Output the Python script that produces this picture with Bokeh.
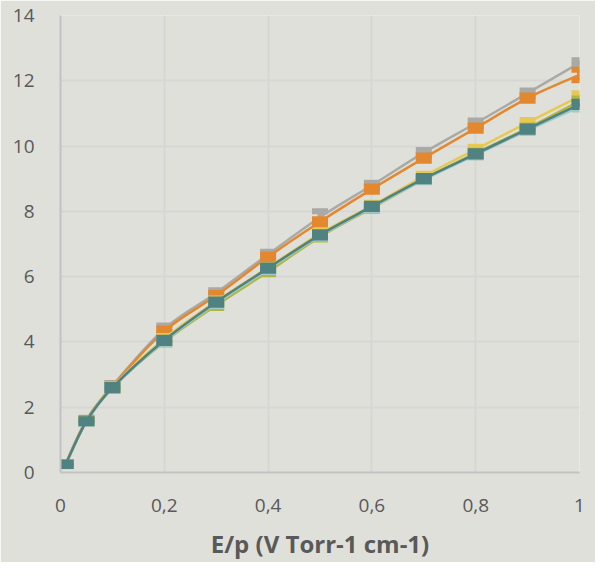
from bokeh.plotting import figure
from bokeh.models import FixedTicker, Range1d
from bokeh.embed import file_html
from bokeh.resources import INLINE

# ---- data ----
x_values = [0.01, 0.05, 0.1, 0.2, 0.3, 0.4, 0.5, 0.6, 0.7, 0.8, 0.9, 1.0]

grey_y = [0.27, 1.62, 2.66, 4.40, 5.50, 6.68, 7.82, 8.80, 9.80, 10.70, 11.62, 12.55]
orange_y = [0.27, 1.60, 2.64, 4.33, 5.42, 6.60, 7.68, 8.68, 9.63, 10.55, 11.47, 12.18]
yellow_y = [0.25, 1.58, 2.62, 4.10, 5.25, 6.28, 7.32, 8.18, 9.07, 9.90, 10.72, 11.52]
olive_y = [0.25, 1.57, 2.60, 4.00, 5.12, 6.15, 7.22, 8.10, 8.98, 9.78, 10.55, 11.38]
lightblue_y = [0.24, 1.55, 2.58, 4.02, 5.18, 6.22, 7.25, 8.12, 8.97, 9.73, 10.48, 11.20]
teal_y = [0.25, 1.57, 2.60, 4.05, 5.22, 6.26, 7.28, 8.15, 9.00, 9.76, 10.52, 11.28]

grey_err = [0.05, 0.06, 0.08, 0.10, 0.08, 0.08, 0.18, 0.08, 0.08, 0.08, 0.08, 0.08]
orange_err = [0.05, 0.06, 0.08, 0.08, 0.08, 0.08, 0.08, 0.08, 0.08, 0.08, 0.08, 0.16]
yellow_err = [0.05, 0.06, 0.08, 0.08, 0.08, 0.08, 0.08, 0.08, 0.08, 0.08, 0.08, 0.10]
olive_err = [0.05, 0.06, 0.08, 0.08, 0.08, 0.08, 0.08, 0.08, 0.08, 0.08, 0.08, 0.08]
lightblue_err = [0.05, 0.06, 0.08, 0.08, 0.08, 0.08, 0.08, 0.08, 0.08, 0.08, 0.08, 0.08]
teal_err = [0.05, 0.06, 0.08, 0.08, 0.08, 0.08, 0.08, 0.08, 0.08, 0.08, 0.08, 0.08]

x_ticks = [0, 0.2, 0.4, 0.6, 0.8, 1.0]
x_tick_labels = ["0", "0,2", "0,4", "0,6", "0,8", "1"]
y_ticks = [0, 2, 4, 6, 8, 10, 12, 14]

series = [
    ("grey", grey_y, grey_err, "#a9a9a6"),
    ("orange", orange_y, orange_err, "#e3882f"),
    ("yellow", yellow_y, yellow_err, "#e6c955"),
    ("olive", olive_y, olive_err, "#b3b53c"),
    ("lightblue", lightblue_y, lightblue_err, "#9fcaca"),
    ("teal", teal_y, teal_err, "#4f8281"),
]

BG = "#e0e0db"
TEXT = "#595959"
FONT = "Open Sans"

p = figure(width=595, height=562, output_backend="svg", toolbar_location=None,
           x_range=Range1d(0, 1), y_range=Range1d(0, 14),
           min_border_left=60, min_border_right=16, min_border_top=15, min_border_bottom=87)
p.background_fill_color = BG
p.border_fill_color = BG
p.outline_line_color = None

p.xgrid.ticker = FixedTicker(ticks=x_ticks)
p.ygrid.ticker = FixedTicker(ticks=y_ticks)
for g in (p.xgrid, p.ygrid):
    g.grid_line_color = "#d6d6d4"
    g.grid_line_width = 2

p.xaxis.ticker = FixedTicker(ticks=x_ticks)
p.xaxis.major_label_overrides = {t: l for t, l in zip(x_ticks, x_tick_labels)}
p.yaxis.ticker = FixedTicker(ticks=y_ticks)

for ax in (p.xaxis, p.yaxis):
    ax.axis_line_color = "#c2c2c2"
    ax.axis_line_width = 2
    ax.major_tick_line_color = None
    ax.minor_tick_line_color = None
    ax.major_label_text_font = FONT
    ax.major_label_text_font_size = "19px"
    ax.major_label_text_color = TEXT
p.xaxis.major_label_standoff = 20
p.yaxis.major_label_standoff = 20

p.xaxis.axis_label = "E/p (V Torr-1 cm-1)"
p.xaxis.axis_label_text_font = FONT
p.xaxis.axis_label_text_font_size = "24px"
p.xaxis.axis_label_text_font_style = "bold"
p.xaxis.axis_label_text_color = TEXT
p.xaxis.axis_label_standoff = 12


def smooth_segments(xs, ys):
    """Control points for a smoothed (Catmull-Rom style) line through the data."""
    n = len(xs)
    x0, y0, x1, y1, cx0, cy0, cx1, cy1 = [], [], [], [], [], [], [], []
    for i in range(n - 1):
        pa = (xs[max(i - 1, 0)], ys[max(i - 1, 0)])
        pb = (xs[i], ys[i])
        pc = (xs[i + 1], ys[i + 1])
        pd = (xs[min(i + 2, n - 1)], ys[min(i + 2, n - 1)])
        x0.append(pb[0]); y0.append(pb[1])
        x1.append(pc[0]); y1.append(pc[1])
        cx0.append(pb[0] + (pc[0] - pa[0]) / 6.0)
        cy0.append(pb[1] + (pc[1] - pa[1]) / 6.0)
        cx1.append(pc[0] - (pd[0] - pb[0]) / 6.0)
        cy1.append(pc[1] - (pd[1] - pb[1]) / 6.0)
    return dict(x0=x0, y0=y0, x1=x1, y1=y1, cx0=cx0, cy0=cy0, cx1=cx1, cy1=cy1)


for name, ys, errs, color in series:
    lo = [y - e for y, e in zip(ys, errs)]
    hi = [y + e for y, e in zip(ys, errs)]
    segs = smooth_segments(x_values, ys)
    p.bezier(**segs, line_color=color, line_width=2.5)
    p.segment(x0=x_values, y0=lo, x1=x_values, y1=hi, line_color=color, line_width=5)
    p.rect(x=x_values, y=lo, width=16, height=6, width_units="screen", height_units="screen",
           fill_color=color, line_color=None)
    p.rect(x=x_values, y=hi, width=16, height=6, width_units="screen", height_units="screen",
           fill_color=color, line_color=None)

open("out.html", "w").write(file_html(p, INLINE))
